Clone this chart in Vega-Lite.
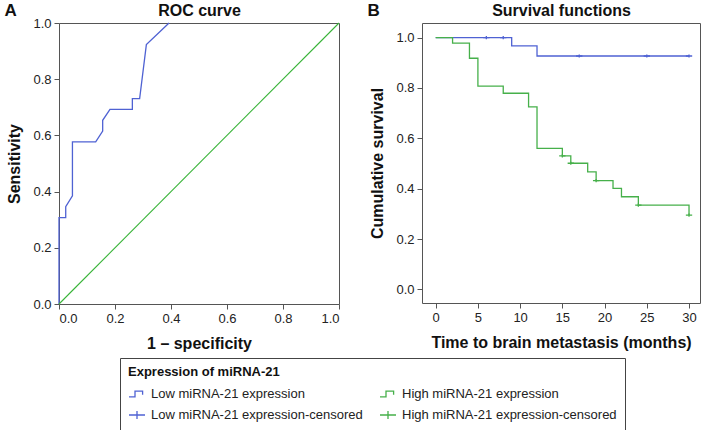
{
  "$schema": "https://vega.github.io/schema/vega-lite/v6.json",
  "background": "white",
  "padding": {"left": 3, "top": 0, "right": 0, "bottom": 0},
  "config": {
    "font": "Liberation Sans",
    "view": {"stroke": "#555555", "strokeWidth": 1},
    "axis": {
      "grid": false, "domain": false, "tickColor": "#555555", "tickSize": 5,
      "labelFont": "Liberation Sans", "labelFontSize": 13, "labelColor": "#222222", "labelPadding": 3,
      "titleFont": "Liberation Sans", "titleFontSize": 16, "titleFontWeight": "bold", "titleColor": "#111111", "titlePadding": 10
    }
  },
  "spacing": 24,
  "hconcat": [
    {
      "width": 280,
      "height": 281,
      "resolve": {"axis": {"x": "independent", "y": "independent"}},
      "layer": [
        {
          "data": {"values": [
            {"k": 0, "fpr": 0, "tpr": 0},
            {"k": 1, "fpr": 0, "tpr": 0.3077},
            {"k": 2, "fpr": 0.024, "tpr": 0.3077},
            {"k": 3, "fpr": 0.024, "tpr": 0.3462},
            {"k": 4, "fpr": 0.048, "tpr": 0.3846},
            {"k": 5, "fpr": 0.048, "tpr": 0.5769},
            {"k": 6, "fpr": 0.131, "tpr": 0.5769},
            {"k": 7, "fpr": 0.156, "tpr": 0.6154},
            {"k": 8, "fpr": 0.156, "tpr": 0.6538},
            {"k": 9, "fpr": 0.182, "tpr": 0.6923},
            {"k": 10, "fpr": 0.262, "tpr": 0.6923},
            {"k": 11, "fpr": 0.262, "tpr": 0.7308},
            {"k": 12, "fpr": 0.288, "tpr": 0.7308},
            {"k": 13, "fpr": 0.312, "tpr": 0.9231},
            {"k": 14, "fpr": 0.393, "tpr": 1.0}
          ]},
          "mark": {"type": "line", "color": "#4f62d3", "strokeWidth": 1.3},
          "encoding": {
            "x": {"field": "fpr", "type": "quantitative", "scale": {"domain": [0, 1], "nice": false},
                  "axis": {"title": "1 – specificity", "values": [0, 0.2, 0.4, 0.6, 0.8, 1], "format": ".1f"}},
            "y": {"field": "tpr", "type": "quantitative", "scale": {"domain": [0, 1], "nice": false},
                  "axis": {"title": "Sensitivity", "values": [0, 0.2, 0.4, 0.6, 0.8, 1], "format": ".1f"}},
            "order": {"field": "k", "type": "quantitative"}
          }
        },
        {
          "data": {"values": [{"fpr": 0, "tpr": 0}, {"fpr": 1, "tpr": 1}]},
          "mark": {"type": "line", "color": "#37b337", "strokeWidth": 1.1},
          "encoding": {
            "x": {"field": "fpr", "type": "quantitative",
                  "axis": {"orient": "top", "title": "ROC curve", "labels": false, "ticks": false, "domain": false,
                           "titleX": 140, "titleY": -8, "titleAngle": 0, "titleAlign": "center", "titleBaseline": "alphabetic"}},
            "y": {"field": "tpr", "type": "quantitative",
                  "axis": {"orient": "left", "title": "A", "labels": false, "ticks": false, "domain": false,
                           "titleX": -55, "titleY": -8, "titleAngle": 0, "titleAlign": "left", "titleBaseline": "alphabetic", "titleFontSize": 17}}
          }
        }
      ]
    },
    {
      "width": 278,
      "height": 280,
      "resolve": {"axis": {"x": "independent", "y": "independent"}},
      "layer": [
        {
          "data": {"values": [
            {"series": "Low miRNA-21 expression", "t": 0, "s": 1.0},
            {"series": "Low miRNA-21 expression", "t": 9, "s": 0.967},
            {"series": "Low miRNA-21 expression", "t": 12, "s": 0.927},
            {"series": "Low miRNA-21 expression", "t": 30, "s": 0.927},
            {"series": "High miRNA-21 expression", "t": 0, "s": 1.0},
            {"series": "High miRNA-21 expression", "t": 2, "s": 0.978},
            {"series": "High miRNA-21 expression", "t": 4, "s": 0.918},
            {"series": "High miRNA-21 expression", "t": 5, "s": 0.807},
            {"series": "High miRNA-21 expression", "t": 8, "s": 0.779},
            {"series": "High miRNA-21 expression", "t": 11, "s": 0.725},
            {"series": "High miRNA-21 expression", "t": 12, "s": 0.56},
            {"series": "High miRNA-21 expression", "t": 15, "s": 0.53},
            {"series": "High miRNA-21 expression", "t": 16, "s": 0.501},
            {"series": "High miRNA-21 expression", "t": 18, "s": 0.467},
            {"series": "High miRNA-21 expression", "t": 19, "s": 0.432},
            {"series": "High miRNA-21 expression", "t": 21, "s": 0.401},
            {"series": "High miRNA-21 expression", "t": 22, "s": 0.368},
            {"series": "High miRNA-21 expression", "t": 24, "s": 0.335},
            {"series": "High miRNA-21 expression", "t": 30, "s": 0.295}
          ]},
          "mark": {"type": "line", "interpolate": "step-after", "strokeWidth": 1.3},
          "encoding": {
            "x": {"field": "t", "type": "quantitative", "scale": {"domain": [-1.62, 31.3], "nice": false, "zero": false},
                  "axis": {"title": "Time to brain metastasis (months)", "values": [0, 5, 10, 15, 20, 25, 30], "format": "d"}},
            "y": {"field": "s", "type": "quantitative", "scale": {"domain": [-0.054, 1.058], "nice": false, "zero": false},
                  "axis": {"title": "Cumulative survival", "values": [0, 0.2, 0.4, 0.6, 0.8, 1], "format": ".1f"}},
            "color": {"field": "series", "type": "nominal",
                      "scale": {"domain": ["Low miRNA-21 expression", "High miRNA-21 expression", "Low miRNA-21 expression-censored", "High miRNA-21 expression-censored"],
                                "range": ["#4f62d3", "#46b04a", "#4f62d3", "#46b04a"]},
                      "legend": {"orient": "none", "legendX": 61, "legendY": 335, "columns": 2, "direction": "horizontal", "title": "Expression of miRNA-21",
                                 "titleFontSize": 13, "titleFontWeight": "bold", "titleColor": "#111111", "titlePadding": 6,
                                 "labelFontSize": 13, "labelColor": "#222222", "labelOffset": 5, "labelLimit": 400, "symbolSize": 256, "symbolStrokeWidth": 1.3,
                                 "rowPadding": 5, "columnPadding": 14, "padding": 8, "strokeColor": "#444444"}}
          }
        },
        {
          "data": {"values": [
            {"series": "Low miRNA-21 expression-censored", "t": 6, "s": 1.0},
            {"series": "Low miRNA-21 expression-censored", "t": 8, "s": 1.0},
            {"series": "Low miRNA-21 expression-censored", "t": 17, "s": 0.927},
            {"series": "Low miRNA-21 expression-censored", "t": 25, "s": 0.927},
            {"series": "Low miRNA-21 expression-censored", "t": 30, "s": 0.927},
            {"series": "High miRNA-21 expression-censored", "t": 15, "s": 0.53},
            {"series": "High miRNA-21 expression-censored", "t": 16, "s": 0.501},
            {"series": "High miRNA-21 expression-censored", "t": 19, "s": 0.432},
            {"series": "High miRNA-21 expression-censored", "t": 24, "s": 0.335},
            {"series": "High miRNA-21 expression-censored", "t": 30, "s": 0.295}
          ]},
          "mark": {"type": "point", "filled": false, "size": 40, "strokeWidth": 1.3, "opacity": 1},
          "encoding": {
            "x": {"field": "t", "type": "quantitative",
                  "axis": {"orient": "top", "title": "Survival functions", "labels": false, "ticks": false, "domain": false,
                           "titleX": 139, "titleY": -8, "titleAngle": 0, "titleAlign": "center", "titleBaseline": "alphabetic"}},
            "y": {"field": "s", "type": "quantitative",
                  "axis": {"orient": "left", "title": "B", "labels": false, "ticks": false, "domain": false,
                           "titleX": -55, "titleY": -8, "titleAngle": 0, "titleAlign": "left", "titleBaseline": "alphabetic", "titleFontSize": 17}},
            "color": {"field": "series", "type": "nominal"},
            "shape": {"field": "series", "type": "nominal",
                      "scale": {"domain": ["Low miRNA-21 expression", "High miRNA-21 expression", "Low miRNA-21 expression-censored", "High miRNA-21 expression-censored"],
                                "range": ["M-1,0.35H-0.25V-0.35H0.7V0.1", "M-1,0.35H-0.25V-0.35H0.7V0.1", "M-1,0H1M0,-0.5V0.5", "M-1,0H1M0,-0.5V0.5"]},
                      "legend": {"orient": "none", "legendX": 61, "legendY": 335, "columns": 2, "direction": "horizontal", "title": "Expression of miRNA-21",
                                 "titleFontSize": 13, "titleFontWeight": "bold", "titleColor": "#111111", "titlePadding": 6,
                                 "labelFontSize": 13, "labelColor": "#222222", "labelOffset": 5, "labelLimit": 400, "symbolSize": 256, "symbolStrokeWidth": 1.3,
                                 "rowPadding": 5, "columnPadding": 14, "padding": 8, "strokeColor": "#444444"}}
          }
        }
      ]
    }
  ]
}
